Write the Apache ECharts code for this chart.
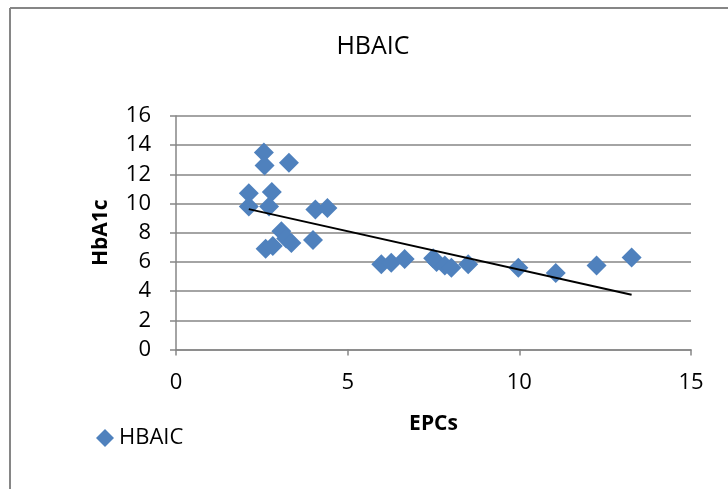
<!DOCTYPE html>
<html lang="en">
<head>
    <meta charset="UTF-8">
    <title>HBAIC</title>
    <script src="https://cdn.jsdelivr.net/npm/echarts@6/dist/echarts.min.js"></script>
    <style>
        html, body { margin: 0; padding: 0; background: #fff; }
    </style>
</head>
<body>
<div id='myChart' style='width: 728px;height:489px;'></div>
<script type="text/javascript">
    // EPCs values (x) and HbA1c values (y)
    var epcs = [2.56, 2.58, 3.29, 2.12, 2.79, 2.12, 2.71, 4.06, 4.41,
        2.61, 2.82, 3.07, 3.21, 3.36, 3.99,
        5.98, 6.27, 6.66, 7.49, 7.59, 7.83, 8.02, 8.51, 9.97, 11.06, 12.25, 13.27];
    var hba1c = [13.5, 12.6, 12.8, 10.7, 10.8, 9.8, 9.8, 9.6, 9.7,
        6.9, 7.1, 8.1, 7.6, 7.3, 7.5,
        5.85, 5.95, 6.2, 6.25, 6.0, 5.75, 5.6, 5.85, 5.6, 5.25, 5.75, 6.3];
    // linear trendline end points
    var trendX = [2.12, 13.27];
    var trendY = [9.62, 3.75];
    var xTicks = [0, 5, 10, 15];
    var yTicks = [0, 2, 4, 6, 8, 10, 12, 14, 16];

    var font = "'Open Sans', 'Noto Sans', sans-serif";
    var points = [];
    for (var i = 0; i < epcs.length; i++) {
        points.push([epcs[i], hba1c[i]]);
    }
    var trend = [];
    for (var j = 0; j < trendX.length; j++) {
        trend.push([trendX[j], trendY[j]]);
    }

    var myChart = echarts.init(document.getElementById('myChart'));
    var option = {
        animation: false,
        title: {
            text: 'HBAIC',
            left: 373, top: 34, textAlign: 'center', padding: 0,
            textStyle: {fontFamily: font, fontSize: 25, fontWeight: 'normal', color: '#000'}
        },
        legend: {
            left: 96, top: 427, padding: 0,
            itemWidth: 18, itemHeight: 18, itemGap: 4,
            data: [{name: 'HBAIC', icon: 'diamond'}],
            textStyle: {fontFamily: font, fontSize: 22, color: '#000'}
        },
        grid: {left: 176, top: 116, width: 515, height: 233.5},
        xAxis: {
            type: 'value', min: 0, max: 15, interval: 5,
            name: 'EPCs', nameLocation: 'middle', nameGap: 64,
            nameTextStyle: {fontFamily: font, fontSize: 21, fontWeight: 'bold', color: '#000'},
            axisLine: {lineStyle: {color: '#868686', width: 1.5}},
            axisTick: {show: true, length: 6, lineStyle: {color: '#868686', width: 1.5}},
            splitLine: {show: false},
            axisLabel: {fontFamily: font, fontSize: 22, color: '#000', margin: 22,
                formatter: function (v) { return xTicks.indexOf(v) >= 0 ? String(v) : ''; }}
        },
        yAxis: {
            type: 'value', min: 0, max: 16, interval: 2,
            name: 'HbA1c', nameLocation: 'middle', nameGap: 64, nameRotate: 90,
            nameTextStyle: {fontFamily: font, fontSize: 21, fontWeight: 'bold', color: '#000'},
            axisLine: {show: true, lineStyle: {color: '#868686', width: 1.5}},
            axisTick: {show: true, length: 6, lineStyle: {color: '#868686', width: 1.5}},
            splitLine: {lineStyle: {color: '#868686', width: 1.5}},
            axisLabel: {fontFamily: font, fontSize: 22, color: '#000', margin: 25,
                formatter: function (v) { return yTicks.indexOf(v) >= 0 ? String(v) : ''; }}
        },
        series: [
            {
                name: 'HBAIC', type: 'scatter',
                symbol: 'diamond', symbolSize: 20,
                itemStyle: {color: '#4F81BD', opacity: 1},
                data: points, z: 2
            },
            {
                name: 'trend', type: 'line',
                data: trend, symbol: 'none',
                lineStyle: {color: '#000', width: 2},
                z: 3, silent: true
            }
        ],
        graphic: [
            {type: 'line', shape: {x1: 10, y1: 8, x2: 728, y2: 8},
                style: {stroke: '#868686', lineWidth: 2}},
            {type: 'line', shape: {x1: 10, y1: 8, x2: 10, y2: 489},
                style: {stroke: '#868686', lineWidth: 2}}
        ]
    };
    myChart.setOption(option);
</script>
</body>
</html>
